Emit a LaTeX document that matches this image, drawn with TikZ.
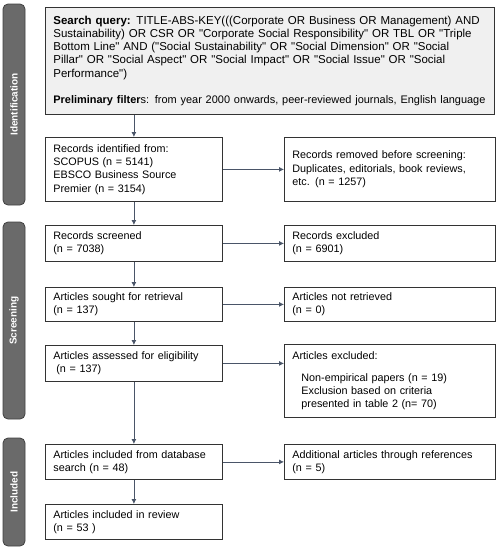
\documentclass[tikz,border=0pt]{standalone}
\usepackage{fontspec}
\setmainfont{Liberation Sans}[Ligatures=TeXOff]
\usetikzlibrary{arrows.meta}
\definecolor{arrowcol}{HTML}{4A5568}
\definecolor{sidefill}{HTML}{6A6A6A}
\definecolor{boxline}{HTML}{333333}
\begin{document}
\begin{tikzpicture}[x=1pt,y=-1pt,
  box/.style={draw=boxline, line width=0.8pt, fill=white, anchor=north west,
    inner xsep=8pt, inner ysep=2pt, align=left,
    font=\fontsize{10.8}{13.3}\selectfont},
  side/.style={draw=black!75, fill=sidefill, rounded corners=5pt, line width=0.8pt,
    rotate=90, text=white, font=\bfseries\fontsize{10}{12}\selectfont, inner sep=0pt},
  arr/.style={draw=arrowcol, line width=0.8pt, -{Latex[length=5pt,width=5pt]}}]
\useasboundingbox (0,0) rectangle (499,550);

% side bars
\node[side, minimum width=201pt, minimum height=22pt] (sideI) at (14,104.5) {Identification};
\node[side, minimum width=197pt, minimum height=22pt] (sideS) at (14,320.5) {Screening};
\node[side, minimum width=108pt, minimum height=22pt] (sideN) at (14,492) {Included};

% boxes
\node[box, fill=black!6, minimum width=449pt, text width=433pt, minimum height=107pt,
  font=\fontsize{11.5}{13.3}\selectfont] (q) at (45,7)
{\mbox{\textbf{Search query:} TITLE-ABS-KEY(((Corporate OR Business OR Management) AND}\\
\mbox{Sustainability) OR CSR OR "Corporate Social Responsibility" OR TBL OR "Triple}\\
\mbox{Bottom Line" AND ("Social Sustainability" OR "Social Dimension" OR "Social}\\
\mbox{Pillar" OR "Social Aspect" OR "Social Impact" OR "Social Issue" OR "Social}\\
Performance")\\[13.3pt]
\mbox{\fontsize{10.95}{13.3}\selectfont\textbf{Preliminary filter}s: from year 2000 onwards, peer-reviewed journals, English language}};

\node[box, minimum width=177pt, text width=161pt, minimum height=64pt] (rid) at (45,137)
{Records identified from:\\SCOPUS (n = 5141)\\EBSCO Business Source\\Premier (n = 3154)};
\node[box, minimum width=211pt, text width=195pt, minimum height=64pt] (rem) at (284,137)
{Records removed before screening:\\Duplicates, editorials, book reviews,\\etc. (n = 1257)};

\node[box, minimum width=177pt, text width=161pt, minimum height=36pt] (scr) at (45,225)
{Records screened\\(n = 7038)};
\node[box, minimum width=211pt, text width=195pt, minimum height=36pt] (exc) at (284,225)
{Records excluded\\(n = 6901)};

\node[box, minimum width=177pt, text width=161pt, minimum height=34pt] (sought) at (45,287)
{Articles sought for retrieval\\(n = 137)};
\node[box, minimum width=211pt, text width=195pt, minimum height=34pt] (notret) at (284,287)
{Articles not retrieved\\(n = 0)};

\node[box, minimum width=177pt, text width=161pt, minimum height=36pt] (assess) at (45,345)
{Articles assessed for eligibility\\\hspace*{3pt}(n = 137)};
\node[box, minimum width=211pt, text width=195pt, minimum height=73pt] (aexc) at (284,344)
{Articles excluded:\\[8pt]
\hspace*{9pt}Non-empirical papers (n = 19)\\
\hspace*{9pt}Exclusion based on criteria\\
\hspace*{9pt}presented in table 2 (n= 70)};

\node[box, minimum width=177pt, text width=161pt, minimum height=35pt] (incdb) at (45,444)
{Articles included from database\\search (n = 48)};
\node[box, minimum width=211pt, text width=195pt, minimum height=35pt] (add) at (284,444)
{Additional articles through references\\(n = 5)};

\node[box, minimum width=177pt, text width=161pt, minimum height=35pt] (rev) at (45,504)
{Articles included in review\\(n = 53 )};

% arrows
\draw[arr] (q.south -| rid.north) -- (rid.north);
\draw[arr] (rid.south) -- (scr.north);
\draw[arr] (scr.south) -- (sought.north);
\draw[arr] (sought.south) -- (assess.north);
\draw[arr] (assess.south) -- (incdb.north);
\draw[arr] (incdb.south) -- (rev.north);

\draw[arr] (rid.east) -- (rid.east -| rem.west);
\draw[arr] (scr.east) -- (exc.west);
\draw[arr] (sought.east) -- (notret.west);
\draw[arr] (assess.east) -- (assess.east -| aexc.west);
\draw[arr] (incdb.east) -- (add.west);
\end{tikzpicture}
\end{document}
